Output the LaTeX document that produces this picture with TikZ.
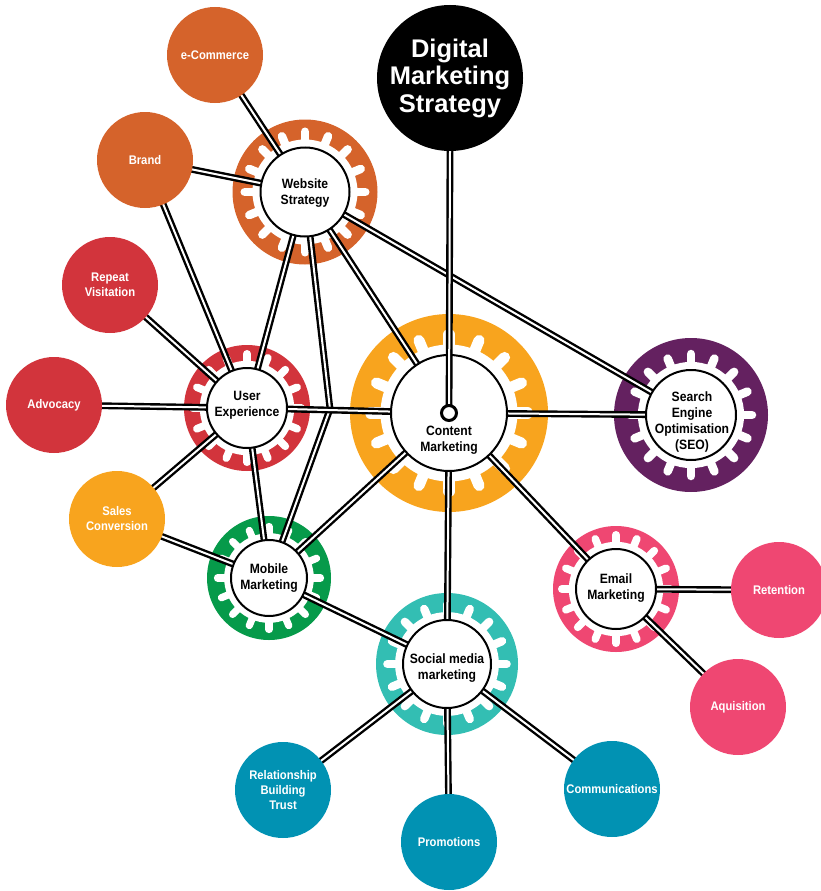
\documentclass[tikz,border=0pt]{standalone}
\usepackage{fontspec}
\setmainfont{Liberation Sans}
\newfontfamily\lblfont{Liberation Sans}[FakeStretch=0.9]
\usetikzlibrary{calc}
\pgfdeclarelayer{bg}
\pgfdeclarelayer{mid}
\pgfsetlayers{bg,mid,main}
\definecolor{corange}{HTML}{D5632B}
\definecolor{cred}{HTML}{D2343C}
\definecolor{cyellow}{HTML}{F8A41E}
\definecolor{cpurple}{HTML}{642160}
\definecolor{cgreen}{HTML}{069A4A}
\definecolor{cteal}{HTML}{33BEB3}
\definecolor{cpink}{HTML}{EF4772}
\definecolor{cblue}{HTML}{0192B3}
\newcommand\gearbase[4]{%
  \pgfmathsetmacro\gring{1.18*#2}%
  \pgfmathsetmacro\gw{0.19*#2}%
  \pgfmathsetmacro\gtip{1.355*#2}%
  \fill[#4] (#1) circle[radius=#3pt];
  \fill[white] (#1) circle[radius=\gring pt];
  \foreach \a in {0,22.5,...,337.5}{\draw[white,line width=\gw pt,line cap=round,shift={(#1)}] (90+\a:#2pt) -- (90+\a:\gtip pt);}
}
\tikzset{
  dl/.style={draw=black, line width=2.4pt, double=white, double distance=2pt, line join=round},
  leaf/.style={circle, minimum size=96pt, inner sep=0pt, text=white, font=\lblfont\bfseries\fontsize{12.5}{15}\selectfont, align=center},
  gearc/.style={circle, draw=black, line width=2pt, fill=white, inner sep=0pt},
  glabel/.style={text=black, font=\lblfont\bfseries\fontsize{13.5}{16.3}\selectfont, align=center, inner sep=0pt},
}
\begin{document}
\begin{tikzpicture}[x=1pt,y=-1pt]
\useasboundingbox (0,0) rectangle (821,891);
% gear inner circles
\node[gearc, minimum size=89pt] (web) at (305,192) {};
\node[gearc, minimum size=80pt] (ux) at (247,408) {};
\node[gearc, minimum size=116pt] (cm) at (449,413) {};
\node[gearc, minimum size=90pt] (seo) at (691,415) {};
\node[gearc, minimum size=76pt] (mob) at (269,578) {};
\node[gearc, minimum size=88pt] (soc) at (447,664) {};
\node[gearc, minimum size=80pt] (em) at (616,589) {};
\coordinate (kink) at (330,409);
% gear labels
\node[glabel] (webt) at (305,193) {Website\\Strategy};
\node[glabel] (uxt) at (247,405) {User\\Experience};
\node[glabel] (cmt) at (449,440) {Content\\Marketing};
\node[glabel] (seot) at (692,422) {Search\\Engine\\Optimisation\\(SEO)};
\node[glabel] (mobt) at (269,578) {Mobile\\Marketing};
\node[glabel] (soct) at (447,668) {Social media\\marketing};
\node[glabel] (emt) at (616,588) {Email\\Marketing};
% leaves
\node[leaf, fill=corange] (ecom) at (215,55) {e-Commerce};
\node[leaf, fill=corange] (brand) at (145,160) {Brand};
\node[leaf, fill=cred] (rep) at (110,285) {Repeat\\Visitation};
\node[leaf, fill=cred] (adv) at (54,405) {Advocacy};
\node[leaf, fill=cyellow] (sales) at (117,519) {Sales\\Conversion};
\node[leaf, fill=cblue] (rel) at (283,790) {Relationship\\Building\\Trust};
\node[leaf, fill=cblue] (pro) at (449,842) {Promotions};
\node[leaf, fill=cblue] (com) at (612,789) {Communications};
\node[leaf, fill=cpink] (ret) at (779,590) {Retention};
\node[leaf, fill=cpink] (aqu) at (738,707) {Aquisition};
% pin and title
\draw[dl] (450,151) coordinate (dmsb) -- (cm.center);
\node[circle, draw=black, line width=3pt, fill=white, minimum size=15pt, inner sep=0pt] (pin) at (cm.center) {};
\node[circle, fill=black, minimum size=146pt, inner sep=0pt, text=white, font=\bfseries\fontsize{25.5}{27.5}\selectfont, align=center] (dms) at (450,78) {Digital\\Marketing\\Strategy};
\begin{pgfonlayer}{bg}
\gearbase{web.center}{44.5}{72.5}{corange}
\gearbase{ux.center}{40}{63}{cred}
\gearbase{cm.center}{58}{99}{cyellow}
\gearbase{seo.center}{45}{77}{cpurple}
\gearbase{mob.center}{38}{62}{cgreen}
\gearbase{soc.center}{44}{71}{cteal}
\gearbase{em.center}{40}{63}{cpink}
\end{pgfonlayer}
\begin{pgfonlayer}{mid}
\draw[dl] (ecom.center) -- (web.center);
\draw[dl] (brand.center) -- (web.center);
\draw[dl] (brand.center) -- (ux.center);
\draw[dl] (rep.center) -- (ux.center);
\draw[dl] (adv.center) -- (ux.center);
\draw[dl] (sales.center) -- (ux.center);
\draw[dl] (sales.center) -- (mob.center);
\draw[dl] (web.center) -- (ux.center);
\draw[dl] (web.center) -- (kink) -- (mob.center);
\draw[dl] (web.center) -- (cm.center);
\draw[dl] (web.center) -- (seo.center);
\draw[dl] (ux.center) -- (cm.center);
\draw[dl] (ux.center) -- (mob.center);
\draw[dl] (cm.center) -- (seo.center);
\draw[dl] (cm.center) -- (em.center);
\draw[dl] (cm.center) -- (soc.center);
\draw[dl] (cm.center) -- (mob.center);
\draw[dl] (mob.center) -- (soc.center);
\draw[dl] (em.center) -- (ret.center);
\draw[dl] (em.center) -- (aqu.center);
\draw[dl] (soc.center) -- (rel.center);
\draw[dl] (soc.center) -- (pro.center);
\draw[dl] (soc.center) -- (com.center);
\end{pgfonlayer}
\end{tikzpicture}
\end{document}
